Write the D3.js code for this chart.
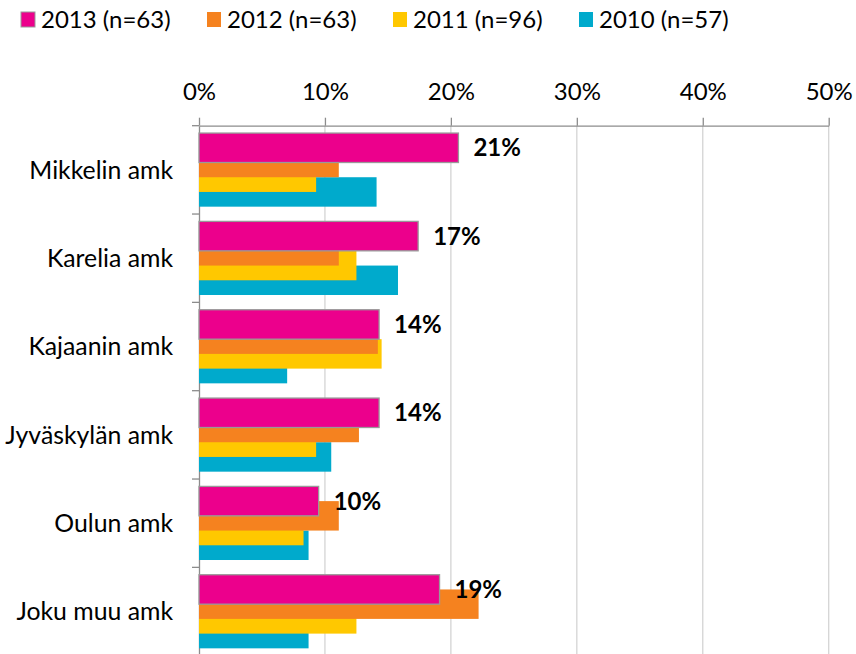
<!DOCTYPE html>
<html><head><meta charset="utf-8">
<script src="https://cdn.jsdelivr.net/npm/d3@7"></script>
<style>
html,body{margin:0;padding:0;background:#fff;}
svg{display:block;font-family:Lato,"Open Sans",sans-serif;}
</style></head>
<body>
<svg id="chart" width="856" height="654"></svg>
<script>
const categories = ["Mikkelin amk","Karelia amk","Kajaanin amk","Jyväskylän amk","Oulun amk","Joku muu amk"];
const seriesNames = ["2013 (n=63)","2012 (n=63)","2011 (n=96)","2010 (n=57)"];
const seriesColors = ["#EC008C","#F5821F","#FFC800","#00AACC"];
const v2013 = [0.206,0.174,0.143,0.143,0.095,0.191];
const v2012 = [0.111,0.111,0.142,0.127,0.111,0.222];
const v2011 = [0.093,0.125,0.145,0.093,0.083,0.125];
const v2010 = [0.141,0.158,0.070,0.105,0.087,0.087];
const labels2013 = ["21%","17%","14%","14%","10%","19%"];
const tickValues = [0,0.1,0.2,0.3,0.4,0.5];

const seriesValues = [v2013,v2012,v2011,v2010];
const svg = d3.select("#chart");

const x = d3.scaleLinear().domain([0,0.5]).range([199,828.7]);
const y = d3.scaleBand().domain(categories).range([125.7,655.7]).paddingInner(0).paddingOuter(0);
const step = y.bandwidth()/6;
const inner = d3.scalePoint().domain(seriesNames).range([step/2, step/2+3*step]);
const barH = 2*step;

// gridlines
svg.append("g").selectAll("line").data(tickValues.slice(1)).join("line")
  .attr("x1",d=>x(d)).attr("x2",d=>x(d))
  .attr("y1",y.range()[0]).attr("y2",654)
  .attr("stroke","#d4d4d4").attr("stroke-width",1.3);

// top axis
const xAxis = d3.axisTop(x).tickValues(tickValues).tickFormat(d3.format(".0%")).tickSize(8).tickSizeOuter(0);
const gx = svg.append("g").attr("transform",`translate(0,${y.range()[0]})`).call(xAxis);
gx.select(".domain").attr("stroke","#8c8c8c").attr("stroke-width",1.3);
gx.selectAll(".tick line").attr("stroke","#8c8c8c").attr("stroke-width",1.3);
gx.selectAll(".tick text").attr("y",-26).attr("dy",0).attr("fill","#000")
  .style("font-family","Lato").style("font-size","24px");

// left axis
const yAxis = d3.axisLeft(y).tickSize(0).tickSizeOuter(0);
const gy = svg.append("g").attr("transform",`translate(${x(0)},0)`).call(yAxis);
gy.select(".domain").attr("stroke","#8c8c8c").attr("stroke-width",1.3);
gy.selectAll(".tick text").attr("x",-26).attr("dy","0.35em").attr("fill","#000")
  .style("font-family","Lato").style("font-size","24.8px");
// band boundary ticks
svg.append("g").selectAll("line").data(categories.map(c=>y(c)).concat([y.range()[1]])).join("line")
  .attr("x1",x(0)-7).attr("x2",x(0)).attr("y1",d=>d).attr("y2",d=>d)
  .attr("stroke","#8c8c8c").attr("stroke-width",1.3);

// bars: draw last series first so 2013 ends up on top
const order = [3,2,1,0];
order.forEach(si=>{
  svg.append("g").selectAll("rect").data(categories).join("rect")
    .attr("x",x(0))
    .attr("y",(c)=>y(c)+inner(seriesNames[si]))
    .attr("width",(c,i)=>x(seriesValues[si][i])-x(0))
    .attr("height",barH)
    .attr("fill",seriesColors[si])
    .attr("stroke",si===0?"#999":"none")
    .attr("stroke-width",si===0?1.3:0);
});

// data labels for 2013
svg.append("g").selectAll("text").data(categories).join("text")
  .attr("x",(c,i)=>x(v2013[i])+15)
  .attr("y",c=>y(c)+inner(seriesNames[0])+barH/2)
  .attr("dy","0.35em")
  .style("font-family","Lato").style("font-size","24px").style("font-weight","bold")
  .attr("fill","#000")
  .text((c,i)=>labels2013[i]);

// legend
const lg = svg.append("g");
const legendX = d3.scalePoint().domain(seriesNames).range([21,579]);
const items = lg.selectAll("g").data(seriesNames).join("g")
  .attr("transform",d=>`translate(${legendX(d)},12)`);
items.append("rect").attr("width",14).attr("height",15)
  .attr("fill",(d,i)=>seriesColors[i])
  .attr("stroke",(d,i)=>i===0?"#999":"none");
items.append("text").attr("x",20).attr("y",16).style("font-family","Lato").style("font-size","24px")
  .attr("fill","#000").text(d=>d);
</script>
</body></html>
